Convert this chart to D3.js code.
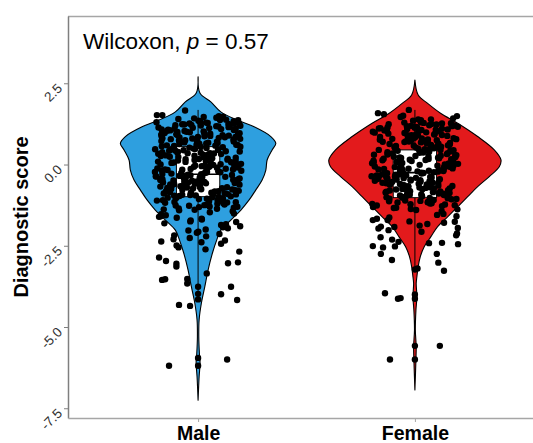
<!DOCTYPE html>
<html>
<head>
<meta charset="utf-8">
<script src="https://cdn.jsdelivr.net/npm/d3@7"></script>
<style>
  html, body { margin: 0; padding: 0; background: #fff; overflow: hidden; }
  svg { display: block; font-family: "Liberation Sans", Arial, sans-serif; }
</style>
</head>
<body>
<script>
// ---- data ----
const groups = ["Male", "Female"];
const groupColors = ["#2E9FDF", "#E31A1C"];
const yTicks = [2.5, 0, -2.5, -5, -7.5];
const testLabel = "Wilcoxon, ";
const pValue = "0.57";

// violin outlines: [score, relative density]
const maleViolin = [
  [2.70, 0], [2.19, 0.023], [1.93, 0.148], [1.62, 0.264], [1.37, 0.453], [1.16, 0.651],
  [0.86, 0.845], [0.65, 0.903], [0.45, 0.86], [0.14, 0.802], [-0.17, 0.787], [-0.48, 0.744],
  [-0.78, 0.671], [-1.09, 0.593], [-1.40, 0.497], [-1.71, 0.38], [-2.02, 0.264], [-2.32, 0.217],
  [-2.73, 0.166], [-3.25, 0.116], [-3.76, 0.078], [-4.27, 0.038], [-4.78, 0.012], [-5.30, 0.008],
  [-5.80, 0.015], [-6.10, 0.023], [-6.53, 0.012], [-7.25, 0]
];
const femaleViolin = [
  [2.60, 0], [2.14, 0.038], [1.88, 0.148], [1.57, 0.302], [1.27, 0.497], [0.86, 0.729],
  [0.45, 0.922], [0.14, 1.0], [-0.07, 0.98], [-0.37, 0.864], [-0.68, 0.729], [-0.99, 0.613],
  [-1.30, 0.497], [-1.61, 0.38], [-1.91, 0.264], [-2.22, 0.186], [-2.53, 0.108], [-2.84, 0.062],
  [-3.14, 0.038], [-3.45, 0.023], [-3.66, 0.015], [-4.07, 0.023], [-4.48, 0.012], [-5.09, 0.005],
  [-5.60, 0.015], [-6.00, 0.012], [-6.94, 0]
];

// box summaries: [lower whisker, Q1, median, Q3, upper whisker]
const maleBox = [-4.2, -0.99, -0.3, 0.55, 1.68];
const femaleBox = [-3.3, -1.02, -0.25, 0.45, 1.68];

// scores of the jittered points
const maleScores = [
  1.49,1.46,1.42,1.4,
  1.38,1.37,1.35,1.33,1.32,1.3,
  1.29,1.28,1.26,1.25,1.23,1.22,1.21,
  1.19,1.18,1.16,1.15,1.14,1.12,1.11,1.1,
  1.09,1.07,1.06,1.05,1.03,1.02,1.01,
  0.99,0.98,0.97,0.95,0.94,0.93,0.91,0.9,
  0.89,0.88,0.86,0.85,0.84,0.82,0.81,0.8,
  0.79,0.77,0.76,0.75,0.73,0.72,0.71,
  0.69,0.68,0.67,0.65,0.64,0.63,0.61,0.6,
  0.59,0.58,0.56,0.55,0.54,0.52,0.51,
  0.49,0.48,0.47,0.45,0.44,0.43,0.41,0.4,
  0.39,0.38,0.36,0.35,0.34,0.32,0.31,
  0.29,0.28,0.27,0.25,0.24,0.23,0.21,0.2,
  0.19,0.18,0.16,0.15,0.14,0.12,0.11,
  0.09,0.08,0.07,0.05,0.04,0.03,0.01,0.0,
  -0.01,-0.02,-0.04,-0.05,-0.06,-0.08,-0.09,
  -0.11,-0.12,-0.13,-0.15,-0.16,-0.17,-0.19,-0.2,
  -0.21,-0.22,-0.24,-0.25,-0.26,-0.28,-0.29,
  -0.31,-0.32,-0.33,-0.35,-0.36,-0.37,-0.39,-0.4,
  -0.41,-0.42,-0.44,-0.45,-0.46,-0.48,-0.49,
  -0.51,-0.52,-0.53,-0.55,-0.56,-0.57,-0.59,-0.6,
  -0.61,-0.62,-0.64,-0.65,-0.66,-0.68,-0.69,
  -0.71,-0.72,-0.73,-0.75,-0.76,-0.77,-0.79,-0.8,
  -0.81,-0.82,-0.84,-0.85,-0.86,-0.88,-0.89,
  -0.91,-0.92,-0.93,-0.95,-0.96,-0.97,-0.99,-1.0,
  -1.01,-1.03,-1.04,-1.06,-1.07,-1.09,
  -1.11,-1.12,-1.14,-1.16,-1.17,-1.19,
  -1.21,-1.23,-1.25,-1.27,-1.29,
  -1.31,-1.33,-1.36,-1.38,
  -1.41,-1.44,-1.47,
  -1.51,-1.53,-1.56,-1.59,-1.61,-1.64,-1.67,-1.69,-1.72,-1.75,-1.77,-1.81,
  -1.84,-1.86,-1.9,-1.93,-1.96,-2.0,-2.03,-2.07,-2.1,-2.14,-2.18,-2.21,
  -2.26,-2.3,-2.34,-2.39,-2.44,-2.49,-2.55,-2.61,
  1.36,1.27,1.17,1.08,0.96,0.87,0.78,0.66,0.57,0.46,0.37,0.26,0.17,0.06,
  -0.03,-0.14,-0.23,-0.34,-0.43,-0.54,-0.63,-0.74,-0.83,-0.94,-1.02,-1.13,-1.24,-1.35,
  1.31,1.24,1.13,1.04,0.92,0.83,0.74,0.62,0.53,0.42,0.33,0.22,0.13,0.02,
  -0.07,-0.18,-0.27,-0.38,-0.47,-0.58,-0.67,-0.78,-0.87,-0.98,-1.05,-1.15,-1.26,-1.39,
  1.2,1.0,0.7,0.5,0.3,0.1,-0.1,-0.3,-0.5,-0.7,-0.9,-1.1,-1.3,
  0.85,0.35,-0.15,-0.65,-1.18,1.44,1.33
];
const femaleScores = [
  1.58,1.5,1.46,1.42,
  1.39,1.36,1.34,1.32,1.3,
  1.29,1.27,1.26,1.24,1.23,1.21,1.2,
  1.19,1.18,1.16,1.15,1.13,1.12,1.11,
  1.09,1.08,1.06,1.05,1.04,1.02,1.01,
  0.99,0.98,0.96,0.95,0.94,0.92,0.91,0.9,
  0.89,0.87,0.86,0.85,0.83,0.82,0.81,
  0.79,0.78,0.77,0.75,0.74,0.72,0.71,0.7,
  0.69,0.67,0.66,0.65,0.63,0.62,0.61,
  0.59,0.58,0.57,0.55,0.54,0.52,0.51,0.5,
  0.49,0.47,0.46,0.45,0.43,0.42,0.41,
  0.39,0.38,0.37,0.35,0.34,0.32,0.31,0.3,
  0.29,0.27,0.26,0.25,0.23,0.22,0.21,
  0.19,0.18,0.17,0.15,0.14,0.12,0.11,0.1,
  0.09,0.07,0.06,0.05,0.03,0.02,0.01,
  -0.01,-0.02,-0.03,-0.05,-0.06,-0.08,-0.09,-0.1,
  -0.11,-0.13,-0.14,-0.15,-0.17,-0.18,-0.19,
  -0.21,-0.22,-0.23,-0.25,-0.26,-0.28,-0.29,-0.3,
  -0.31,-0.33,-0.34,-0.35,-0.37,-0.38,-0.39,
  -0.41,-0.42,-0.43,-0.45,-0.46,-0.48,-0.49,-0.5,
  -0.51,-0.53,-0.54,-0.55,-0.57,-0.58,-0.59,
  -0.61,-0.62,-0.63,-0.65,-0.66,-0.68,-0.69,-0.7,
  -0.71,-0.73,-0.74,-0.75,-0.77,-0.78,-0.79,
  -0.81,-0.82,-0.84,-0.85,-0.86,-0.88,-0.89,
  -0.91,-0.92,-0.94,-0.95,-0.97,-0.98,
  -1.01,-1.02,-1.04,-1.06,-1.07,-1.09,
  -1.11,-1.13,-1.15,-1.17,-1.19,
  -1.21,-1.23,-1.26,-1.28,
  -1.31,-1.34,-1.37,-1.4,-1.44,
  -1.52,-1.55,-1.59,-1.63,-1.67,-1.71,-1.75,-1.79,-1.83,-1.88,-1.92,
  -1.97,-2.02,-2.07,-2.12,-2.18,-2.24,-2.31,-2.38,-2.45,
  1.28,1.18,1.07,0.97,0.88,0.76,0.68,0.56,0.48,0.36,0.28,0.16,0.08,-0.04,
  -0.12,-0.24,-0.32,-0.44,-0.52,-0.64,-0.72,-0.83,-0.93,-1.03,-1.12,-1.22,-1.33,
  1.25,1.14,1.03,0.93,0.84,0.73,0.64,0.53,0.44,0.33,0.24,0.13,0.04,-0.07,
  -0.16,-0.27,-0.36,-0.47,-0.56,-0.67,-0.76,-0.87,-0.96,-1.05,-1.16,-1.25,-1.38,
  1.1,0.8,0.6,0.4,0.2,0.0,-0.2,-0.4,-0.6,-0.8,-1.0,-1.2,
  0.9,0.45,-0.45,-0.9,1.35
];

// isolated points placed individually: [horizontal offset (category units), score]
const maleStray = [
  [-0.19, 1.52], [-0.165, 1.52], [-0.06, 1.66], [0.115, 1.47], [0.18, 1.30], [0.19, 1.25],
  [-0.17, -2.37], [-0.18, -2.86], [-0.148, -2.97], [-0.10, -3.05], [-0.10, -3.14],
  [-0.166, -3.55], [-0.152, -3.53], [-0.05, -3.52], [-0.05, -3.66], [-0.088, -4.32],
  [-0.037, -4.35], [0, -3.76], [0, -3.98], [0, -4.15], [0.106, -3.99], [0.152, -3.76],
  [0.18, -4.17], [0.19, -2.68], [0.138, -3.04], [0.184, -3.01], [0.04, -3.35],
  [-0.134, -6.19], [0.134, -6.0], [0, -5.95], [0, -6.19]
];
const femaleStray = [
  [-0.143, 1.55], [-0.028, 1.68], [0.194, 1.49], [0.074, 1.39], [0.198, 1.16],
  [-0.194, -1.71], [-0.157, -1.91], [-0.194, -2.51], [-0.147, -2.55], [-0.157, -2.75],
  [-0.106, -2.94], [-0.092, -2.52], [0.065, -2.42], [0.125, -2.41], [0.101, -2.75],
  [0.108, -3.02], [0.134, -3.27], [0.184, -1.76], [0.198, -1.95], [0, -3.23], [0.012, -3.2],
  [-0.138, -3.96], [-0.078, -4.13], [-0.066, -4.11], [0, -4.0], [0, -4.13],
  [0.115, -5.58], [-0.115, -6.0], [0, -5.58], [0, -6.0]
];

// ---- layout ----
const W = 533, H = 443;
const panel = { left: 68, top: 16, right: 545, bottom: 418 };

const svg = d3.select("body").append("svg").attr("width", W).attr("height", H);

const y = d3.scaleLinear().domain([-7.8, 4.57]).range([panel.bottom, panel.top]);
const x = d3.scalePoint().domain(groups).range([panel.left, panel.right]).padding(0.6);
const step = x.step();
const halfW = d3.scaleLinear().domain([0, 1]).range([0, 0.397 * step]);

const violins = [maleViolin, femaleViolin];
const boxes = [maleBox, femaleBox];
const scores = [maleScores, femaleScores];
const strays = [maleStray, femaleStray];

// horizontal jitter: deterministic hash so the layout is stable between renders
function jitter(k, seed) {
  const v = Math.sin((k + 1) * 12.9898 + seed * 78.233) * 43758.5453;
  return (v - Math.floor(v) - 0.5) * 0.4;
}

// panel frame (top edge)
svg.append("line")
  .attr("x1", panel.left).attr("x2", panel.right)
  .attr("y1", panel.top + 0.5).attr("y2", panel.top + 0.5)
  .attr("stroke", "#a6a6a6").attr("stroke-width", 1.3);

// violins
groups.forEach((g, i) => {
  const cx = x(g);
  const area = d3.area()
    .curve(d3.curveCatmullRom.alpha(0.5))
    .y(d => y(d[0]))
    .x0(d => cx - halfW(d[1]))
    .x1(d => cx + halfW(d[1]));
  svg.append("path")
    .datum(violins[i])
    .attr("d", area)
    .attr("fill", groupColors[i])
    .attr("stroke", "#000")
    .attr("stroke-width", 1.1)
    .attr("stroke-linejoin", "round");
});

// box plots
const boxHalf = 0.1 * step;
groups.forEach((g, i) => {
  const cx = x(g);
  const [lo, q1, med, q3, hi] = boxes[i];
  const gb = svg.append("g").attr("stroke", "#000").attr("stroke-width", 1);
  gb.append("line").attr("x1", cx).attr("x2", cx).attr("y1", y(hi)).attr("y2", y(q3));
  gb.append("line").attr("x1", cx).attr("x2", cx).attr("y1", y(q1)).attr("y2", y(lo));
  gb.append("rect")
    .attr("x", cx - boxHalf).attr("y", y(q3))
    .attr("width", 2 * boxHalf).attr("height", y(q1) - y(q3))
    .attr("fill", "#fff");
  gb.append("line").attr("x1", cx - boxHalf).attr("x2", cx + boxHalf)
    .attr("y1", y(med)).attr("y2", y(med)).attr("stroke-width", 1.6);
});

// jittered points
groups.forEach((g, i) => {
  const cx = x(g);
  const pts = scores[i].map((s, k) => [jitter(k, i + 1), s]).concat(strays[i]);
  svg.append("g").selectAll("circle")
    .data(pts)
    .join("circle")
    .attr("cx", d => cx + d[0] * step)
    .attr("cy", d => y(d[1]))
    .attr("r", 3.2)
    .attr("fill", "#000");
});

// y axis
const yAxis = svg.append("g")
  .attr("transform", `translate(${panel.left},0)`)
  .call(d3.axisLeft(y).tickValues(yTicks).tickSize(4).tickSizeOuter(0)
    .tickFormat(d => d.toFixed(1)))
  .attr("font-size", 13.5)
  .attr("font-family", "Liberation Sans, Arial, sans-serif");
yAxis.select(".domain").attr("stroke", "#7f7f7f").attr("stroke-width", 1.5);
yAxis.selectAll(".tick line").attr("stroke", "#7f7f7f").attr("stroke-width", 1);
yAxis.selectAll(".tick text")
  .attr("x", -5).attr("y", 5.5).attr("dy", null)
  .attr("text-anchor", "end")
  .attr("fill", "#333")
  .attr("transform", "rotate(-45,-5,5.5)");

// x axis
const xAxis = svg.append("g")
  .attr("transform", `translate(0,${panel.bottom})`)
  .call(d3.axisBottom(x).tickSize(4).tickSizeOuter(0))
  .attr("font-size", 19.5)
  .attr("font-family", "Liberation Sans, Arial, sans-serif");
xAxis.select(".domain").attr("stroke", "#a6a6a6").attr("stroke-width", 1.5);
xAxis.selectAll(".tick line").attr("stroke", "#a6a6a6");
xAxis.selectAll(".tick text")
  .attr("y", 8).attr("dy", "0.71em")
  .attr("fill", "#000")
  .attr("font-weight", "bold");

// y axis title
svg.append("text")
  .attr("transform", `translate(28,${(panel.top + panel.bottom) / 2}) rotate(-90)`)
  .attr("text-anchor", "middle")
  .attr("font-size", 20)
  .attr("font-weight", "bold")
  .text("Diagnostic score");

// test annotation
const ann = svg.append("text")
  .attr("x", 83).attr("y", 49)
  .attr("font-size", 22.5)
  .attr("fill", "#000");
ann.append("tspan").text(testLabel);
ann.append("tspan").attr("font-style", "italic").text("p");
ann.append("tspan").text(" = " + pValue);
</script>
</body>
</html>
